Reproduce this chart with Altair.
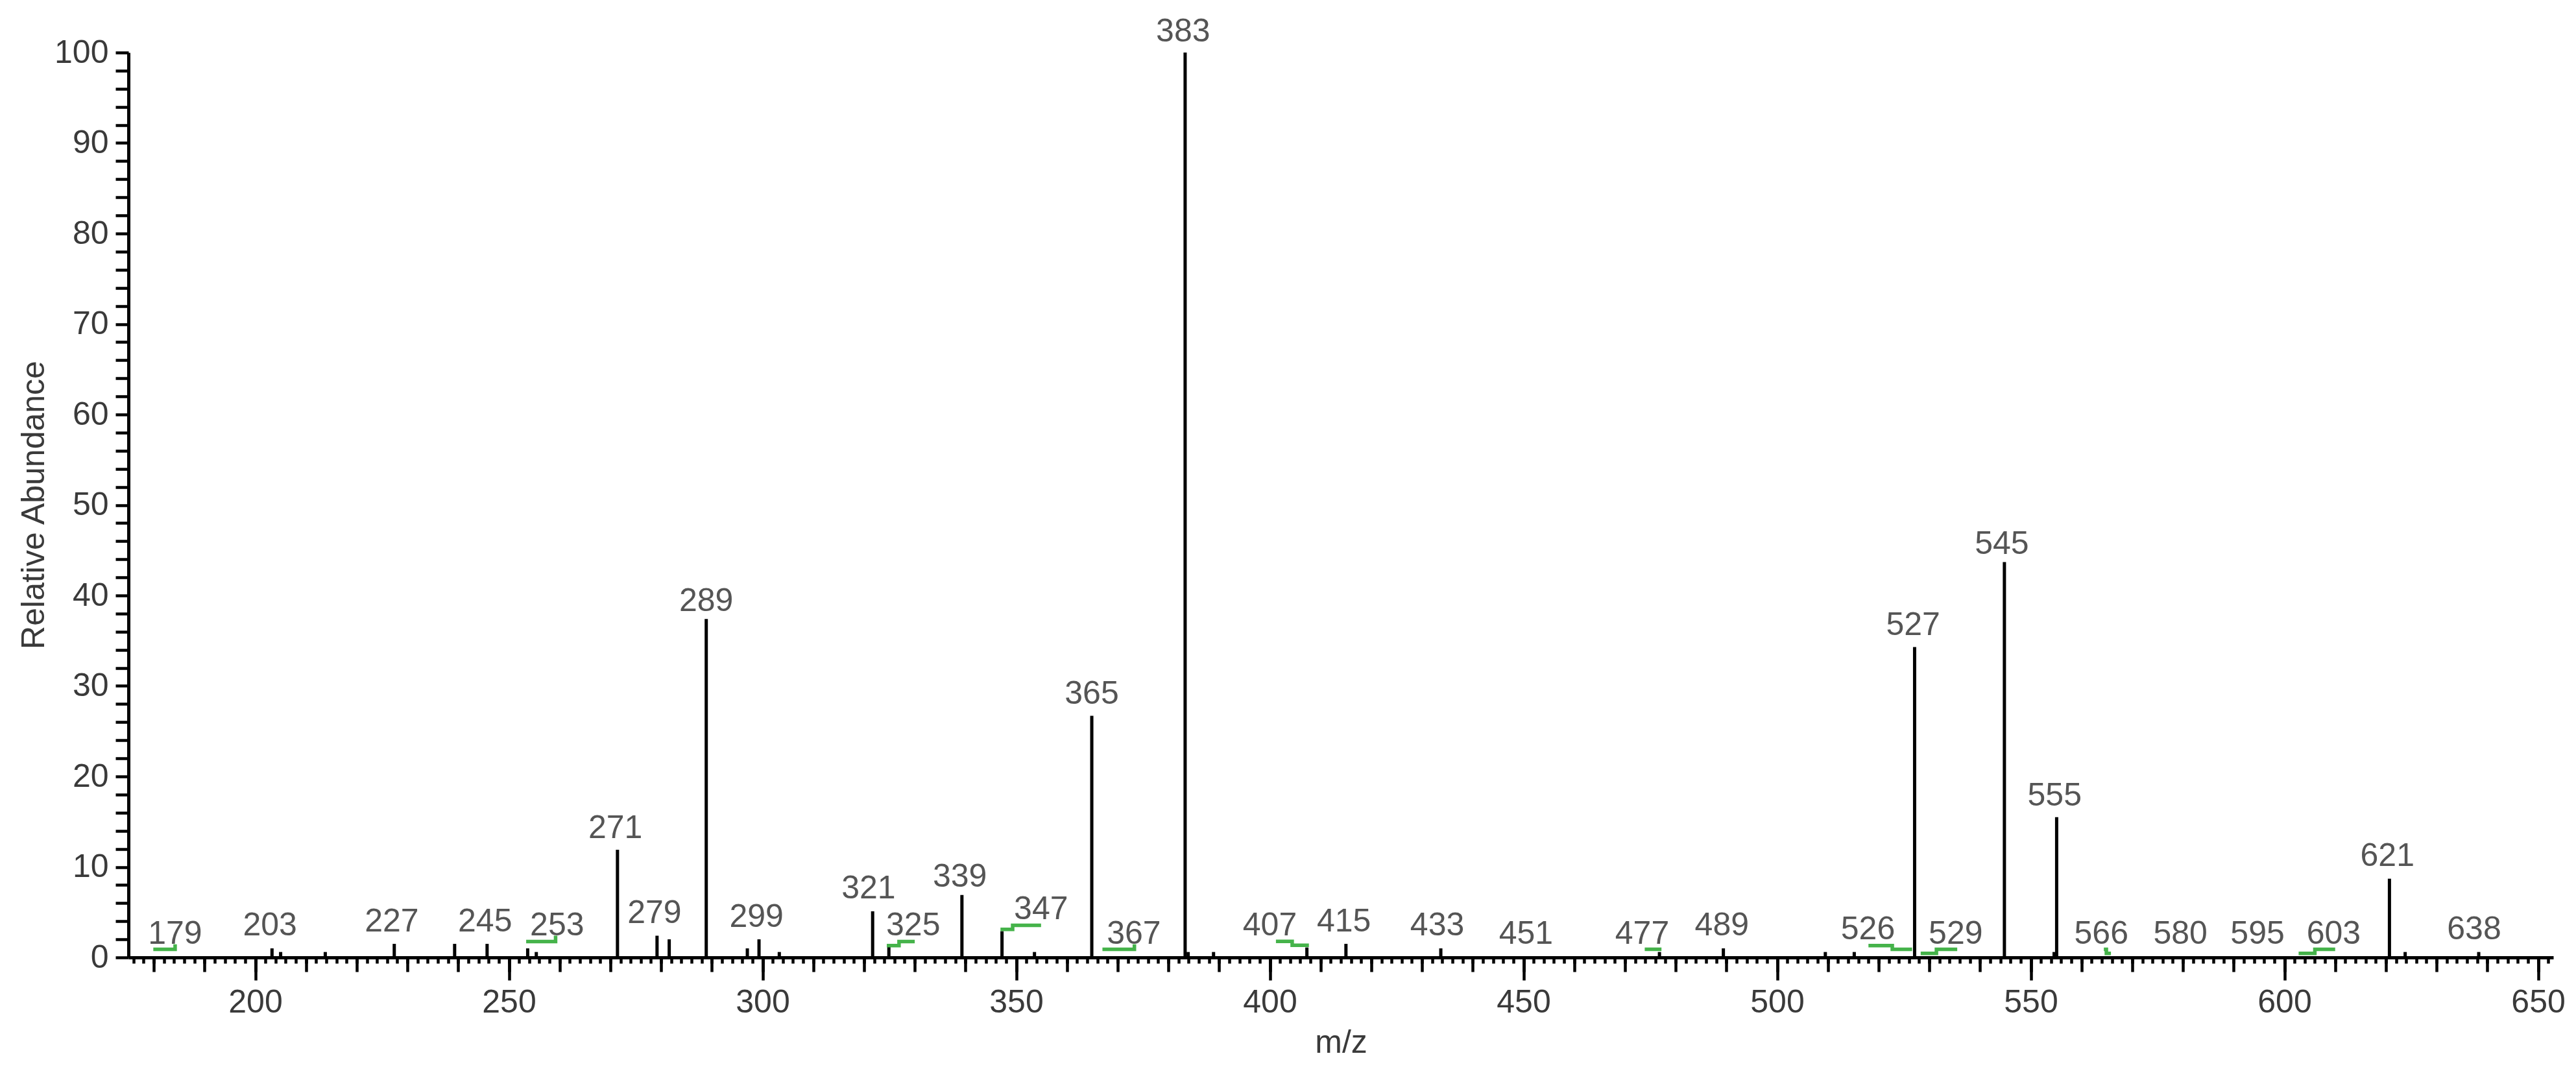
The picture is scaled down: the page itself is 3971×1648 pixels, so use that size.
import altair as alt
import pandas as pd

# ---- data ----
peak_mz = [203.3, 205.0, 213.8, 227.4, 239.3, 245.7, 253.7, 255.4, 271.4, 279.2,
           281.6, 288.9, 297.0, 299.3, 303.3, 321.7, 324.9, 339.3, 347.2, 353.6,
           364.9, 383.3, 383.9, 388.9, 407.3, 415.0, 433.7, 476.8, 489.4, 509.5,
           515.2, 527.1, 544.8, 554.6, 555.1, 620.7, 623.8, 638.3]
peak_ab = [1.0, 0.6, 0.6, 1.5, 1.5, 1.5, 1.0, 0.6, 11.9, 2.4,
           2.0, 37.4, 1.0, 2.0, 0.6, 5.1, 1.5, 6.9, 2.9, 0.6,
           26.7, 100.0, 0.6, 0.6, 1.1, 1.5, 1.0, 0.6, 1.0, 0.6,
           0.6, 34.3, 43.7, 0.6, 15.5, 8.7, 0.6, 0.6]

label_text = ["179", "203", "227", "245", "253", "271", "279", "289", "299", "321",
              "325", "339", "347", "365", "367", "383", "407", "415", "433", "451",
              "477", "489", "526", "527", "529", "545", "555", "566", "580", "595",
              "603", "621", "638"]
label_x = [184.2, 202.9, 226.9, 245.3, 259.5, 271.0, 278.7, 288.9, 298.8, 320.9,
           329.7, 338.9, 354.9, 364.9, 373.2, 382.9, 400.0, 414.6, 433.0, 450.5,
           473.4, 489.1, 517.9, 526.8, 535.2, 544.3, 554.7, 563.9, 579.5, 594.7,
           609.7, 620.3, 637.4]
label_y = [1.5, 2.46, 2.9, 2.9, 2.46, 13.2, 3.8, 38.3, 3.36, 6.5,
           2.46, 7.84, 4.25, 28.0, 1.5, 101.2, 2.46, 2.9, 2.46, 1.5,
           1.5, 2.46, 1.98, 35.6, 1.5, 44.6, 16.8, 1.5, 1.5, 1.5,
           1.5, 10.1, 1.98]

# green annotation markers (step outlines)
green_id = ["179"] * 3 + ["253"] * 3 + ["325"] * 4 + ["347"] * 4 + ["367"] * 3 + \
           ["407"] * 4 + ["477"] * 2 + ["526"] * 4 + ["529"] * 4 + ["566"] * 4 + ["603"] * 4
green_mz = [179.9, 184.2, 184.2,
            253.4, 259.2, 259.2,
            324.5, 326.9, 326.9, 330.0,
            346.9, 349.3, 349.3, 354.9,
            367.0, 373.3, 373.3,
            401.2, 404.4, 404.4, 407.7,
            473.9, 477.2,
            518.0, 522.7, 522.7, 526.6,
            528.3, 531.4, 531.4, 535.5,
            564.4, 564.9, 564.9, 565.8,
            602.8, 606.0, 606.0, 610.0]
green_lvl = [0.9, 0.9, 1.45,
             1.76, 1.76, 2.4,
             1.3, 1.3, 1.76, 1.76,
             3.1, 3.1, 3.55, 3.55,
             0.9, 0.9, 1.45,
             1.77, 1.77, 1.35, 1.35,
             0.9, 0.9,
             1.3, 1.3, 0.9, 0.9,
             0.45, 0.45, 0.9, 0.9,
             0.9, 0.9, 0.45, 0.45,
             0.45, 0.45, 0.9, 0.9]

x_domain = [175, 653]
y_domain = [0, 100]
minor_ticks = list(range(176, 653, 2))
medium_ticks = list(range(180, 653, 10))
major_ticks = list(range(200, 651, 50))
y_ticks = list(range(0, 101, 2))

peaks = pd.DataFrame({"mz": peak_mz, "ab": peak_ab})
labels = pd.DataFrame({"txt": label_text, "lx": label_x, "ly": label_y})
green = pd.DataFrame({"gid": green_id, "gmz": green_mz, "glvl": green_lvl,
                      "seq": list(range(len(green_mz)))})

FONT = "Liberation Sans"
x_scale = alt.Scale(domain=x_domain, nice=False, zero=False)
y_scale = alt.Scale(domain=y_domain, nice=False)

y_axis = alt.Axis(values=y_ticks, labelExpr="datum.value % 10 === 0 ? datum.label : ''",
                  tickSize=20, tickWidth=4.5, tickColor="black",
                  domainWidth=5, domainColor="black",
                  labelPadding=11, labelFontSize=50, labelFont=FONT, labelColor="#3a3a3a",
                  title="Relative Abundance", titleFontSize=50, titleFont=FONT,
                  titleFontWeight="normal", titleColor="#3a3a3a",
                  titleX=-131, titleY=697, titleAngle=270, titleBaseline="alphabetic",
                  grid=False)

ax_minor = alt.Axis(orient="bottom", values=minor_ticks, tickSize=9, tickWidth=4.5,
                    tickColor="black", labels=False, domain=True, domainWidth=5,
                    domainColor="black", title="", grid=False)
ax_medium = alt.Axis(orient="bottom", values=medium_ticks, tickSize=22, tickWidth=4.5,
                     tickColor="black", labels=False, domain=False, title="", grid=False)
ax_major = alt.Axis(orient="bottom", values=major_ticks, tickSize=35, tickWidth=4.5,
                    tickColor="black", domain=False, labelPadding=9,
                    labelFontSize=50, labelFont=FONT, labelColor="#3a3a3a",
                    title="m/z", titleFontSize=50, titleFont=FONT, titleFontWeight="normal",
                    titleColor="#3a3a3a", titleY=146, titleBaseline="alphabetic", grid=False)

rules = alt.Chart(peaks).mark_rule(color="black", strokeWidth=5).encode(
    x=alt.X("mz:Q", scale=x_scale, axis=ax_minor),
    y=alt.Y("ab:Q", scale=y_scale, axis=y_axis),
    y2=alt.datum(0),
)

greens = alt.Chart(green).mark_line(color="#45b34a", strokeWidth=5.5, strokeCap="butt").encode(
    x=alt.X("gmz:Q", scale=x_scale, axis=ax_medium),
    y=alt.Y("glvl:Q", scale=y_scale, axis=y_axis),
    detail="gid:N",
    order="seq:Q",
)

texts = alt.Chart(labels).mark_text(fontSize=50, font=FONT, color="#555555",
                                    align="center", baseline="alphabetic").encode(
    x=alt.X("lx:Q", scale=x_scale, axis=ax_major),
    y=alt.Y("ly:Q", scale=y_scale, axis=y_axis),
    text="txt:N",
)

chart = alt.layer(rules, greens, texts).resolve_axis(x="independent").resolve_scale(
    x="shared", y="shared"
).properties(
    width=3738, height=1395,
    autosize=alt.AutoSizeParams(type="none"),
    padding={"left": 190, "top": 73, "right": 27, "bottom": 164},
).configure_view(strokeWidth=0).configure_axis(grid=False)

chart.save("out.html", embed_options={"renderer": "svg", "actions": False})
